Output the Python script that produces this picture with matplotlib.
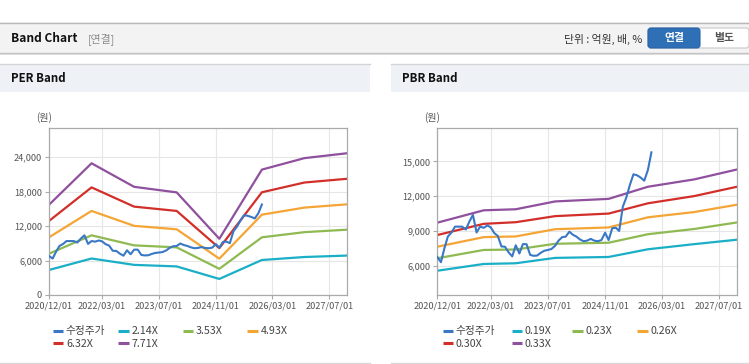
import matplotlib
matplotlib.use("Agg")
import matplotlib.pyplot as plt
import matplotlib.dates as mdates
from matplotlib.patches import Rectangle, FancyBboxPatch
from matplotlib.lines import Line2D
from matplotlib.ticker import FuncFormatter
import pandas as pd

plt.rcParams['font.family'] = ['Noto Sans CJK KR', 'DejaVu Sans']

# ---------------- data ----------------
price_start = '2020-12-01'
price_values = [6800, 6350, 7600, 8550, 8900, 9400, 9400, 9400, 9150, 9850,
                10400, 8900, 9400, 9300, 9500, 9350, 8850, 8600, 7700, 7680,
                7200, 6850, 7800, 7100, 7900, 7900, 6980, 6900, 6920, 7150,
                7330, 7400, 7480, 7750, 8200, 8500, 8540, 8970, 8700, 8550,
                8300, 8150, 8200, 8350, 8200, 8150, 8250, 8880, 8250, 9260,
                9300, 9030, 11100, 11900, 13000, 13890, 13800, 13600, 13340, 14250,
                15770]

per_dates = ['2020-12-01', '2021-12-01', '2022-12-01', '2023-12-01',
             '2024-12-01', '2025-12-01', '2026-12-01', '2027-12-01']
per_214 = [4360, 6360, 5250, 4980, 2800, 6100, 6620, 6870]
per_353 = [7200, 10400, 8650, 8300, 4560, 10050, 10950, 11380]
per_493 = [10050, 14650, 12050, 11450, 6330, 14000, 15230, 15800]
per_632 = [12900, 18750, 15400, 14650, 8170, 17900, 19600, 20250]
per_771 = [15720, 22950, 18850, 17880, 9800, 21850, 23850, 24700]
per_labels = ['수정주가', '2.14X', '3.53X', '4.93X', '6.32X', '7.71X']

pbr_dates = ['2020-12-01', '2022-01-01', '2022-10-01', '2023-09-01',
             '2024-12-01', '2025-11-01', '2026-12-01', '2027-12-01']
pbr_019 = [5620, 6200, 6260, 6720, 6800, 7460, 7900, 8280]
pbr_023 = [6690, 7400, 7440, 7930, 8020, 8750, 9200, 9760]
pbr_026 = [7680, 8500, 8560, 9180, 9330, 10200, 10650, 11280]
pbr_030 = [8680, 9640, 9780, 10300, 10520, 11400, 12020, 12820]
pbr_033 = [9740, 10800, 10890, 11560, 11780, 12820, 13450, 14300]
pbr_labels = ['수정주가', '0.19X', '0.23X', '0.26X', '0.30X', '0.33X']

x_ticks = ['2020-12-01', '2022-03-01', '2023-07-01', '2024-11-01', '2026-03-01', '2027-07-01']
x_ticklabels = ['2020/12/01', '2022/03/01', '2023/07/01', '2024/11/01', '2026/03/01', '2027/07/01']
x_range = ['2020-12-01', '2027-12-01']
per_yticks = [0, 6000, 12000, 18000, 24000]
pbr_yticks = [6000, 9000, 12000, 15000]

colors = ['#3a78c6', '#1aafc6', '#8fba52', '#f4a535', '#d22f2a', '#8f509e']

# ---------------- figure ----------------
W, H = 749, 364
fig = plt.figure(figsize=(W / 100, H / 100), dpi=100)
fig.patch.set_facecolor('white')

bg = fig.add_axes([0, 0, 1, 1])
bg.set_xlim(0, W)
bg.set_ylim(H, 0)
bg.axis('off')

# top header bar
bg.add_patch(Rectangle((0, 53), W, 2, facecolor='#e2e2e2', edgecolor='none'))
bg.add_patch(Rectangle((0, 22), W, 31, facecolor='#f3f3f3', edgecolor='none'))
bg.plot([0, W], [22.5, 22.5], color='#b8b8b8', lw=1)
bg.plot([0, W], [52.5, 52.5], color='#c4c4c4', lw=1)
bg.text(11, 39, 'Band Chart', fontsize=8.6, fontweight='bold', color='#111111',
        va='center', ha='left')
bg.text(88, 39, '[연결]', fontsize=7.8, color='#8a8a8a', va='center', ha='left')
bg.text(642, 39, '단위 : 억원, 배, %', fontsize=7.8, color='#333333', va='center', ha='right')
bg.add_patch(FancyBboxPatch((648, 28), 101, 20, boxstyle='round,pad=0,rounding_size=3',
                            facecolor='white', edgecolor='#c8c8c8', lw=0.8))
bg.add_patch(FancyBboxPatch((648, 28), 52, 20, boxstyle='round,pad=0,rounding_size=3',
                            facecolor='#2f6fb6', edgecolor='#2a64a6', lw=0.8))
bg.text(674, 38.5, '연결', fontsize=7.8, fontweight='bold', color='white', va='center', ha='center')
bg.text(724, 38.5, '별도', fontsize=7.8, fontweight='bold', color='#555555', va='center', ha='center')

# panel headers
for (x0, x1, title) in [(0, 370, 'PER Band'), (391, W, 'PBR Band')]:
    bg.add_patch(Rectangle((x0, 64), x1 - x0, 28, facecolor='#eef1f6', edgecolor='none'))
    bg.plot([x0, x1], [64, 64], color='#d4d4d4', lw=1)
    bg.plot([x0, x1], [362.5, 362.5], color='#d8d8d8', lw=1)
    bg.text(x0 + 11, 79, title, fontsize=8.3, fontweight='bold', color='#111111',
            va='center', ha='left')


def make_axes(left, right, top, bottom):
    return fig.add_axes([left / W, (H - bottom) / H, (right - left) / W, (bottom - top) / H])


def style_axes(ax, yticks, ylim):
    ax.set_xlim(pd.to_datetime(x_range[0]), pd.to_datetime(x_range[1]))
    ax.set_ylim(*ylim)
    ax.set_xticks(pd.to_datetime(x_ticks))
    ax.set_xticklabels(x_ticklabels)
    ax.set_yticks(yticks)
    ax.yaxis.set_major_formatter(FuncFormatter(lambda v, p: f'{int(v):,}'))
    ax.grid(True, color='#e6e6e6', lw=0.8)
    ax.set_axisbelow(True)
    for s in ax.spines.values():
        s.set_color('#aaaaaa')
        s.set_linewidth(0.9)
    ax.tick_params(axis='both', colors='#aaaaaa', labelcolor='#555555', labelsize=6.6,
                   length=3, width=0.8, pad=2)
    ax.set_facecolor('white')


price_dates = pd.date_range(price_start, periods=len(price_values), freq='MS')


def draw_panel(ax, band_dates, bands, yticks, ylim):
    style_axes(ax, yticks, ylim)
    bd = pd.to_datetime(band_dates)
    for i, b in enumerate(bands):
        ax.plot(bd, b, color=colors[i + 1], lw=1.6, solid_joinstyle='round')
    ax.plot(price_dates, price_values, color=colors[0], lw=1.5, solid_joinstyle='round', zorder=5)


ax1 = make_axes(49, 347, 128, 295)
draw_panel(ax1, per_dates, [per_214, per_353, per_493, per_632, per_771], per_yticks, (0, 29100))
ax2 = make_axes(437.3, 737, 128.3, 295)
draw_panel(ax2, pbr_dates, [pbr_019, pbr_023, pbr_026, pbr_030, pbr_033], pbr_yticks, (3540, 17830))

bg.text(44, 118, '(원)', fontsize=7.2, color='#555555', va='center', ha='center')
bg.text(432, 118, '(원)', fontsize=7.2, color='#555555', va='center', ha='center')

# legends
def legend(labels, xs, rows_y):
    for i, lab in enumerate(labels):
        r = 0 if i < 4 else 1
        c = i if i < 4 else i - 4
        x = xs[c]
        y = rows_y[r]
        bg.add_line(Line2D([x, x + 10.7], [y, y], color=colors[i], lw=2.2, solid_capstyle='butt'))
        bg.text(x + 13.2, y + 0.3, lab, fontsize=7.7, color='#444444', va='center', ha='left')


legend(per_labels, [52.7, 118.3, 182.7, 247.3], [330.7, 343.3])
legend(pbr_labels, [442.7, 511.7, 572.3, 637.3], [330.7, 343.3])

fig.savefig('out.png', dpi=100, facecolor='white')
